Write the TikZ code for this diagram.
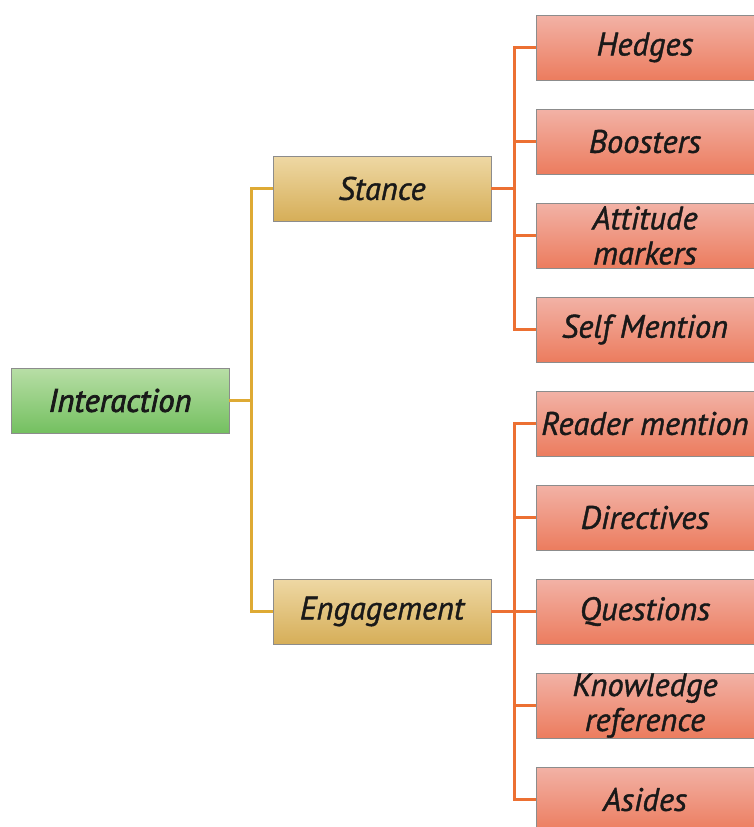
\documentclass[tikz,border=0pt]{standalone}
\usepackage{fontspec}
\newfontfamily\boxfont{PT Sans}[FakeBold=1.2]
\newfontfamily\rootfont{PT Sans}[FakeBold=2.4]
\usetikzlibrary{positioning,calc}
\usepackage{xcolor}
\definecolor{greentop}{RGB}{184,222,166}
\definecolor{greenbot}{RGB}{116,192,96}
\definecolor{goldtop}{RGB}{238,216,164}
\definecolor{goldbot}{RGB}{214,174,88}
\definecolor{salmontop}{RGB}{242,178,166}
\definecolor{salmonbot}{RGB}{236,124,94}
\definecolor{goldline}{RGB}{222,170,52}
\definecolor{orangeline}{RGB}{236,112,50}
\newlength\boxw
\newlength\boxh
\setlength{\boxw}{218pt}
\setlength{\boxh}{65pt}
\tikzset{
  box/.style={minimum width=\boxw, minimum height=\boxh, inner sep=0pt,
    draw=black!45, line width=0.8pt, align=center,
    font=\boxfont\itshape\fontsize{32.5}{35}\selectfont, text=black!90},
  rootbox/.style={box, top color=greentop, bottom color=greenbot,
    font=\rootfont\itshape\fontsize{32.5}{35}\selectfont},
  midbox/.style={box, top color=goldtop, bottom color=goldbot},
  leafbox/.style={box, top color=salmontop, bottom color=salmonbot},
  goldwire/.style={draw=goldline, line width=3pt},
  orangewire/.style={draw=orangeline, line width=3pt}
}
\begin{document}
\begin{tikzpicture}[x=1pt,y=-1pt]
    \useasboundingbox (0,0) rectangle (753,827);
    % first level
    \node[rootbox] (inter) at (120,400.5) {Interaction};
    \node[midbox] (stance) at (382,188.5) {Stance};
    \node[midbox] (engage) at (382,611.5) {Engagement};
    % stance leaves
    \node[leafbox] (hedges) at (645,47.5) {Hedges};
    \node[leafbox] (boost) at (645,141.5) {Boosters};
    \node[leafbox] (attit) at (645,235.5) {Attitude\\markers};
    \node[leafbox] (selfm) at (645,329.5) {Self Mention};
    % engagement leaves
    \node[leafbox] (reader) at (645,423.5) {Reader mention};
    \node[leafbox] (direct) at (645,517.5) {Directives};
    \node[leafbox] (quest) at (645,611.5) {Questions};
    \node[leafbox] (knowl) at (645,705.5) {Knowledge\\reference};
    \node[leafbox] (asides) at (645,799.5) {Asides};
    % gold connectors
    \coordinate (gj) at ($(inter.east)+(22,0)$);
    \draw[goldwire] (inter.east) -- (gj);
    \draw[goldwire] (stance.west) -| (gj) |- (engage.west);
    % orange connectors
    \coordinate (sj) at ($(stance.east)+(23,0)$);
    \coordinate (ej) at ($(engage.east)+(23,0)$);
    \draw[orangewire] (stance.east) -- (sj);
    \draw[orangewire] (hedges.west) -| (sj) |- (selfm.west);
    \draw[orangewire] (sj |- boost.west) -- (boost.west);
    \draw[orangewire] (sj |- attit.west) -- (attit.west);
    \draw[orangewire] (engage.east) -- (quest.west);
    \draw[orangewire] (reader.west) -| (ej) |- (asides.west);
    \draw[orangewire] (ej |- direct.west) -- (direct.west);
    \draw[orangewire] (ej |- knowl.west) -- (knowl.west);
\end{tikzpicture}
\end{document}
